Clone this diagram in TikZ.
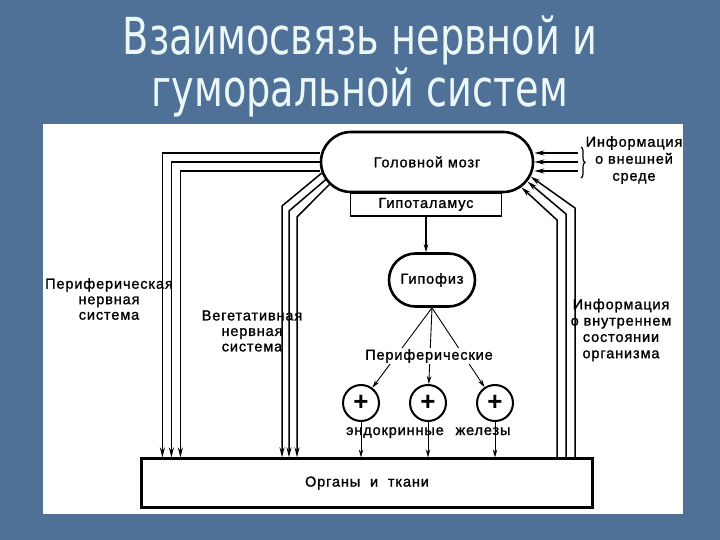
\documentclass[tikz,border=0pt]{standalone}
\usepackage{fontspec}
\usepackage{graphicx}
\setmainfont{Liberation Sans}
\newfontfamily\lblfont{Liberation Sans}[LetterSpace=6.0, FakeBold=1.2]
\newfontfamily\titlefont{DejaVu Sans}
\usetikzlibrary{positioning,shapes.misc,arrows.meta,decorations.pathreplacing}
\definecolor{slideblue}{RGB}{79,113,152}
\definecolor{titlewhite}{RGB}{236,248,248}
\newcommand{\narrowtext}[1]{\scalebox{0.75}[1]{#1}}

\begin{document}
\begin{tikzpicture}[x=1pt, y=-1pt,
    lbl/.style={font=\lblfont\fontsize{14.5}{15.5}\selectfont, align=center, inner sep=1pt},
    oval/.style={draw, rounded rectangle, line width=2.6pt, lbl},
    nerve/.style={line width=1.5pt, -{Stealth[length=10pt,width=5pt]}},
    hormone/.style={line width=0.9pt, -{Stealth[length=8pt,width=4.5pt]}},
    gland/.style={draw, circle, line width=2pt, minimum size=36pt, inner sep=0pt},
    heading/.style={font=\titlefont\fontsize{51}{52}\selectfont, text=titlewhite, anchor=base}]
    \fill[slideblue] (0,0) rectangle (720,540);
    \fill[white] (43,124) rectangle (683,514);
    \useasboundingbox (0,0) rectangle (720,540);

    % title
    \node[heading] (T1) at (360,55) {\narrowtext{Взаимосвязь нервной и}};
    \node[heading] (T2) at (360,107) {\narrowtext{гуморальной систем}};

    % brain and glands
    \node[draw, line width=1.8pt, minimum width=151pt, minimum height=23pt, lbl, anchor=north] (H) at (426,192) {Гипоталамус};
    \node[oval, fill=white, minimum width=214pt, minimum height=60pt] (B) at (427,162) {Головной мозг};
    \node[oval, minimum width=88pt, minimum height=53pt] (G) at (432,280) {Гипофиз};
    \node[gland] (E1) at (361,403) {\fontsize{26}{26}\bfseries +};
    \node[gland] (E2) at (428,403) {\fontsize{26}{26}\bfseries +};
    \node[gland] (E3) at (495,403) {\fontsize{26}{26}\bfseries +};
    \node[draw, line width=2.2pt, minimum width=451pt, minimum height=49pt, lbl] (O) at (367,483) {Органы\ \ и\ \ ткани};

    % labels
    \node[lbl] (PNS) at (109,299) {Периферическая\\нервная\\система};
    \node[lbl] (VNS) at (252,331) {Вегетативная\\нервная\\система};
    \node[lbl, font=\lblfont\fontsize{14.5}{16.3}\selectfont] (INT) at (621,330) {Информация\\о внутреннем\\состоянии\\организма};
    \node[lbl, font=\lblfont\fontsize{14.5}{17}\selectfont] (EXT) at (634,160) {Информация\\о внешней\\среде};
    \node[lbl, anchor=base] (EN) at (395,435) {эндокринные};
    \node[lbl, anchor=base] (ZH) at (483,435) {железы};

    % peripheral nervous system
    \draw[nerve] ([yshift=9pt]B.west) -| ([xshift=22pt]O.north west);
    \draw[nerve] (B.west) -| ([xshift=31pt]O.north west);
    \draw[nerve] ([yshift=-9pt]B.west) -| ([xshift=40pt]O.north west);

    % vegetative nervous system
    \draw[nerve] (B.186) -- (282,206) -- (282,206 |- O.north);
    \draw[nerve] (B.190) -- (289,211) -- (289,211 |- O.north);
    \draw[nerve] (B.193) -- (297,217) -- (297,217 |- O.north);

    % information from the organs
    \draw[nerve] (557,220 |- O.north) -- (557,220) -- (B.345);
    \draw[nerve] (566,214 |- O.north) -- (566,214) -- (B.349);
    \draw[nerve] (575,208 |- O.north) -- (575,208) -- (B.352);

    % information from outside
    \coordinate (X1) at (578,153);
    \coordinate (X2) at (578,162);
    \coordinate (X3) at (578,171);
    \draw[nerve, line width=1.1pt] (X1) -- (X1 -| B.east);
    \draw[nerve, line width=1.1pt] (X2) -- (X2 -| B.east);
    \draw[nerve, line width=1.1pt] (X3) -- (X3 -| B.east);
    \draw[line width=1.2pt, decorate, decoration={brace, amplitude=4pt}] (581,147) -- (581,178);

    % hormones
    \draw[hormone, line width=1.2pt] (H.south) -- (H.south |- G.north);
    \draw[hormone] (G.south) -- (E1);
    \draw[hormone] (G.south) -- (E2);
    \draw[hormone] (G.south) -- (E3);
    \node[lbl, fill=white] (P) at (429,356) {Периферические};
    \draw[hormone, line width=0.7pt] (E1) -- (E1 |- O.north);
    \draw[hormone, line width=0.7pt] (E2) -- (E2 |- O.north);
    \draw[hormone, line width=0.7pt] (E3) -- (E3 |- O.north);
\end{tikzpicture}
\end{document}
